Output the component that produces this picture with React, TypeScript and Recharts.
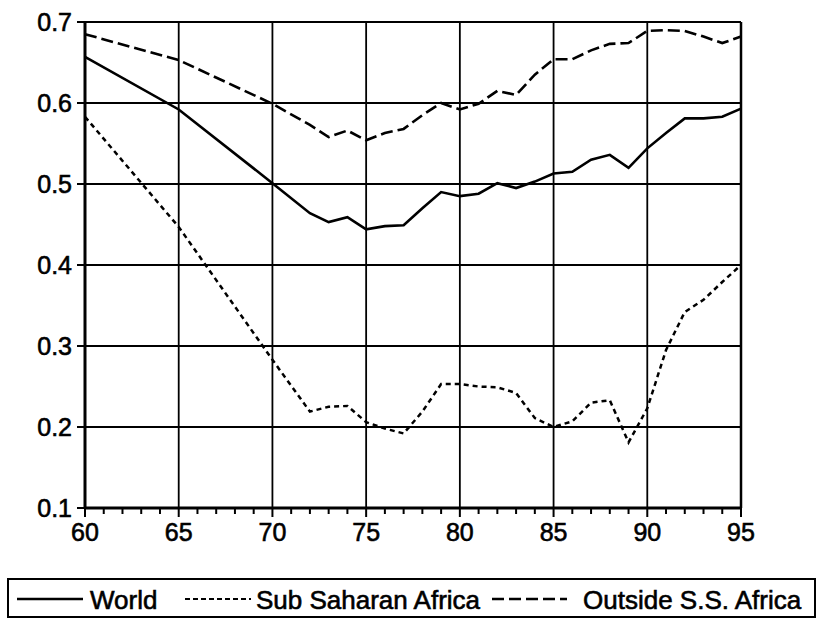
import {
  CartesianGrid,
  Line,
  LineChart,
  ReferenceLine,
  XAxis,
  YAxis,
} from "recharts";

const FONT = "'Liberation Sans', Arial, sans-serif";
const INK = "#000000";

// years with data (60, 65, 70, then annual from 72)
const years = [
  60, 65, 70, 72, 73, 74, 75, 76, 77, 78, 79, 80, 81, 82, 83, 84, 85, 86, 87,
  88, 89, 90, 91, 92, 93, 94, 95,
];
const world = [
  0.657, 0.592, 0.501, 0.464, 0.453, 0.459, 0.444, 0.448, 0.449, 0.47, 0.49,
  0.485, 0.488, 0.501, 0.495, 0.503, 0.513, 0.515, 0.53, 0.536, 0.52, 0.544,
  0.563, 0.581, 0.581, 0.583, 0.593,
];
const subSaharan = [
  0.583, 0.447, 0.283, 0.219, 0.225, 0.226, 0.206, 0.198, 0.192, 0.219, 0.253,
  0.253, 0.25, 0.249, 0.242, 0.211, 0.2, 0.207, 0.23, 0.233, 0.181, 0.223,
  0.295, 0.342, 0.357, 0.379, 0.4,
];
const outside = [
  0.685, 0.653, 0.599, 0.573, 0.558, 0.566, 0.554, 0.563, 0.568, 0.585, 0.6,
  0.592, 0.599, 0.615, 0.61, 0.635, 0.654, 0.654, 0.665, 0.673, 0.674, 0.689,
  0.69, 0.689, 0.682, 0.674, 0.682,
];

const yearTicks = [
  60, 61, 62, 63, 64, 65, 66, 67, 68, 69, 70, 71, 72, 73, 74, 75, 76, 77, 78,
  79, 80, 81, 82, 83, 84, 85, 86, 87, 88, 89, 90, 91, 92, 93, 94, 95,
];
const gridYears = [65, 70, 75, 80, 85, 90, 95];
const yTicks = [0.1, 0.2, 0.3, 0.4, 0.5, 0.6, 0.7];

const data = years.map((year, i) => ({
  year,
  world: world[i],
  ssa: subSaharan[i],
  outside: outside[i],
}));

type TickProps = { x?: number; y?: number; payload?: { value: number } };

function YearTick({ x = 0, y = 0, payload }: TickProps) {
  const v = payload ? payload.value : 0;
  const major = v % 5 === 0;
  return (
    <g>
      <line
        x1={x}
        x2={x}
        y1={y}
        y2={y + (major ? 9 : 6)}
        stroke={INK}
        strokeWidth={2}
      />
      {major && (
        <text
          x={x}
          y={y + 15}
          dy="0.71em"
          textAnchor="middle"
          fontSize={25}
          fontFamily={FONT}
          fill={INK}
          stroke={INK}
          strokeWidth={0.6}
        >
          {v}
        </text>
      )}
    </g>
  );
}

function LegendBox() {
  const text = {
    position: "absolute" as const,
    top: 7,
    fontSize: 26,
    fontFamily: FONT,
    color: INK,
    lineHeight: "26px",
    WebkitTextStroke: "0.6px #000",
  };
  return (
    <div
      style={{
        position: "absolute",
        left: 7,
        top: 578,
        width: 809,
        height: 40,
        border: "2px solid #000",
        boxSizing: "border-box",
      }}
    >
      <svg
        width={805}
        height={36}
        style={{ position: "absolute", left: 0, top: 0 }}
      >
        <line x1={8} x2={74} y1={19} y2={19} stroke={INK} strokeWidth={2.4} />
        <line
          x1={176}
          x2={242}
          y1={19}
          y2={19}
          stroke={INK}
          strokeWidth={2.2}
          strokeDasharray="5 3"
        />
        <line
          x1={483}
          x2={558}
          y1={19}
          y2={19}
          stroke={INK}
          strokeWidth={2.4}
          strokeDasharray="12 5"
        />
      </svg>
      <span style={{ ...text, left: 81 }}>World</span>
      <span style={{ ...text, left: 247 }}>Sub Saharan Africa</span>
      <span style={{ ...text, left: 574 }}>Outside S.S. Africa</span>
    </div>
  );
}

export default function App() {
  return (
    <div
      style={{
        position: "absolute",
        left: 0,
        top: 0,
        width: 823,
        height: 619,
        background: "#fff",
      }}
    >
      <LineChart
        width={823}
        height={560}
        data={data}
        margin={{ top: 22, right: 82, bottom: 12, left: 0 }}
      >
        <CartesianGrid
          vertical={false}
          stroke={INK}
          strokeWidth={1.8}
          strokeOpacity={1}
        />
        {gridYears.map((g) => (
          <ReferenceLine
            key={g}
            x={g}
            stroke={INK}
            strokeWidth={g === 95 ? 2.5 : 1.8}
          />
        ))}
        <XAxis
          dataKey="year"
          type="number"
          domain={[60, 95]}
          ticks={yearTicks}
          interval={0}
          tick={<YearTick />}
          tickLine={false}
          tickSize={0}
          tickMargin={0}
          axisLine={{ stroke: INK, strokeWidth: 3 }}
          height={40}
        />
        <YAxis
          type="number"
          domain={[0.1, 0.7]}
          ticks={yTicks}
          interval={0}
          width={85}
          tickSize={8}
          tickMargin={5}
          tickLine={{ stroke: INK, strokeWidth: 2 }}
          axisLine={{ stroke: INK, strokeWidth: 3 }}
          tickFormatter={(v: number) => v.toFixed(1)}
          tick={{
            fontSize: 25,
            fontFamily: FONT,
            fill: INK,
            stroke: INK,
            strokeWidth: 0.6,
          }}
        />
        <Line
          dataKey="world"
          stroke={INK}
          strokeWidth={2.6}
          dot={false}
          activeDot={false}
          isAnimationActive={false}
        />
        <Line
          dataKey="ssa"
          stroke={INK}
          strokeWidth={2.5}
          strokeDasharray="5 4"
          dot={false}
          activeDot={false}
          isAnimationActive={false}
        />
        <Line
          dataKey="outside"
          stroke={INK}
          strokeWidth={2.6}
          strokeDasharray="12 5"
          dot={false}
          activeDot={false}
          isAnimationActive={false}
        />
      </LineChart>
      <LegendBox />
    </div>
  );
}
